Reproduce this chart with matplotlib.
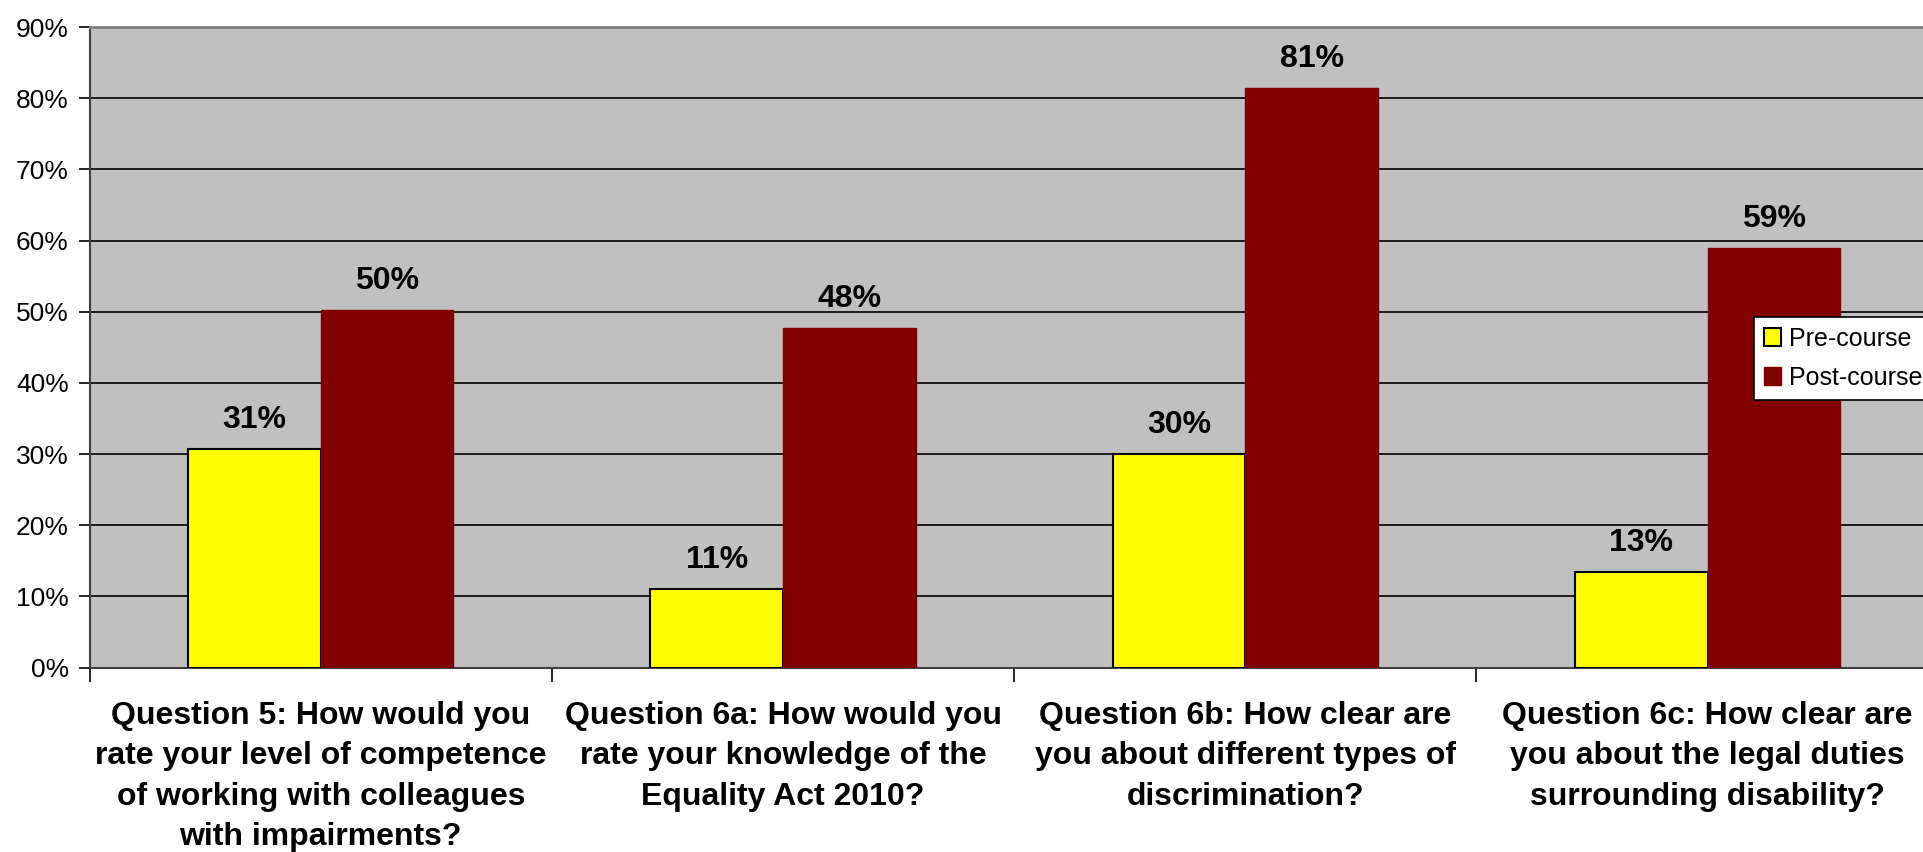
import matplotlib
matplotlib.use("Agg")
import matplotlib.pyplot as plt
import numpy as np
from matplotlib.ticker import MultipleLocator, PercentFormatter

plt.rcParams['font.family'] = ['Liberation Sans', 'DejaVu Sans']

# data
questions = [
    "Question 5: How would you\nrate your level of competence\nof working with colleagues\nwith impairments?",
    "Question 6a: How would you\nrate your knowledge of the\nEquality Act 2010?",
    "Question 6b: How clear are\nyou about different types of\ndiscrimination?",
    "Question 6c: How clear are\nyou about the legal duties\nsurrounding disability?",
]
pre_course = [30.7, 11.0, 30.0, 13.4]
post_course = [50.2, 47.7, 81.4, 59.0]
series_names = ["Pre-course", "Post-course"]

fig = plt.figure(figsize=(19.24, 8.52), dpi=100)
ax = fig.add_axes([0.0466, 0.2165, 0.961, 0.7518])
ax.set_facecolor('#C0C0C0')

x = np.arange(len(questions))
w = 0.287
b1 = ax.bar(x - w / 2, pre_course, w, color='#FFFF00', edgecolor='black',
            linewidth=1.5, label=series_names[0], zorder=3)
b2 = ax.bar(x + w / 2, post_course, w, color='#800000', edgecolor='#800000',
            linewidth=1, label=series_names[1], zorder=3)

for bars in (b1, b2):
    for rect in bars:
        h = rect.get_height()
        ax.annotate(f"{h:.0f}%", (rect.get_x() + rect.get_width() / 2, h),
                    xytext=(0, 10), textcoords='offset points',
                    ha='center', va='bottom', fontsize=23, fontweight='bold')

ax.set_xlim(-0.5, 3.5)
ax.set_ylim(0, 90)
ax.yaxis.set_major_locator(MultipleLocator(10))
ax.yaxis.set_major_formatter(PercentFormatter(decimals=0))
ax.grid(axis='y', color='black', linewidth=1.2, zorder=1)
ax.tick_params(axis='y', labelsize=19, length=8, width=1.2, direction='out', pad=7)

ax.set_xticks(np.arange(-0.5, 4, 1))
ax.set_xticklabels([])
ax.tick_params(axis='x', length=10, width=1.2, direction='out')
ax.set_xticks(x, minor=True)
ax.set_xticklabels(questions, minor=True, fontsize=23, fontweight='bold',
                   linespacing=1.45)
ax.tick_params(axis='x', which='minor', length=0, pad=24)

for side in ('left', 'bottom'):
    ax.spines[side].set_color('#404040')
    ax.spines[side].set_linewidth(1.5)
ax.spines['top'].set_color('#808080')
ax.spines['top'].set_linewidth(2)
ax.spines['right'].set_visible(False)

leg = fig.legend(loc='upper left', bbox_to_anchor=(0.9115, 0.628),
                 bbox_transform=fig.transFigure, borderaxespad=0,
                 fontsize=18, fancybox=False, framealpha=1,
                 edgecolor='black', handlelength=0.7, handleheight=0.7,
                 handletextpad=0.3, labelspacing=0.6, borderpad=0.4)
leg.get_frame().set_linewidth(1.2)

fig.savefig('out.png', dpi=100, facecolor='white')
